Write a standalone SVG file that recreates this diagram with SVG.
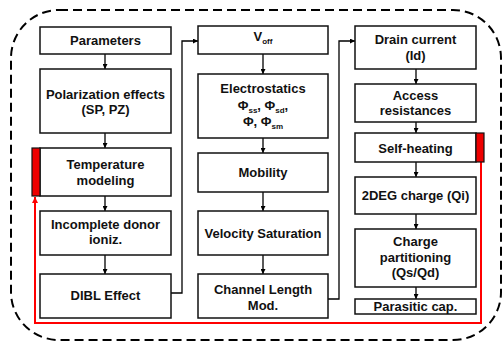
<svg xmlns="http://www.w3.org/2000/svg" width="503" height="342" viewBox="0 0 503 342">
<defs>
<style>
.b{fill:#fff;stroke:#111;stroke-width:1.5}
.t{font-family:"Liberation Sans",Arial,sans-serif;font-weight:bold;font-size:13px;fill:#111;text-anchor:middle}
.s{font-size:8px}
.c{fill:none;stroke:#000;stroke-width:1.3}
.r{fill:none;stroke:#f00;stroke-width:2}
.rb{fill:#e00;stroke:#111;stroke-width:1.2}
</style>
<marker id="a" viewBox="0 0 6 6" refX="6" refY="3" markerWidth="5" markerHeight="5" orient="auto" markerUnits="userSpaceOnUse"><path d="M0,0L6,3L0,6z" fill="#000"/></marker>
<marker id="ar" viewBox="0 0 6 6" refX="6" refY="3" markerWidth="6" markerHeight="6" orient="auto" markerUnits="userSpaceOnUse"><path d="M0,0L6,3L0,6z" fill="#f00"/></marker>
</defs>
<rect x="11" y="10" width="490" height="330" rx="48" ry="48" fill="none" stroke="#000" stroke-width="2" stroke-dasharray="9,5"/>
<g id="connectors">
<path class="c" d="M105,54V69" marker-end="url(#a)"/>
<path class="c" d="M105,133V148" marker-end="url(#a)"/>
<path class="c" d="M105,196V211" marker-end="url(#a)"/>
<path class="c" d="M105,255V274" marker-end="url(#a)"/>
<path class="c" d="M171,293H182V41H198" marker-end="url(#a)"/>
<path class="c" d="M263,54V74" marker-end="url(#a)"/>
<path class="c" d="M263,138V153" marker-end="url(#a)"/>
<path class="c" d="M263,192V211" marker-end="url(#a)"/>
<path class="c" d="M263,255V274" marker-end="url(#a)"/>
<path class="c" d="M328,299H339V41H355" marker-end="url(#a)"/>
<path class="c" d="M416,69V84" marker-end="url(#a)"/>
<path class="c" d="M416,122V133" marker-end="url(#a)"/>
<path class="c" d="M416,162V177" marker-end="url(#a)"/>
<path class="c" d="M416,214V229" marker-end="url(#a)"/>
<path class="c" d="M416,287V299" marker-end="url(#a)"/>
<path class="r" d="M481,162V323H35V197" marker-end="url(#ar)"/>
</g>
<g id="n1"><rect class="b" x="40" y="27" width="131" height="27"/><text class="t" x="105.5" y="44.5">Parameters</text></g>
<g id="n2"><rect class="b" x="40" y="69" width="131" height="64"/><text class="t" x="105.5" y="98.5">Polarization effects</text><text class="t" x="105.5" y="114">(SP, PZ)</text></g>
<g id="n3"><rect class="b" x="40" y="148" width="131" height="48"/><rect class="rb" x="32" y="148" width="8" height="48"/><text class="t" x="105.5" y="169">Temperature</text><text class="t" x="105.5" y="185">modeling</text></g>
<g id="n4"><rect class="b" x="40" y="211" width="131" height="44"/><text class="t" x="105.5" y="228.5">Incomplete donor</text><text class="t" x="105.5" y="244">ioniz.</text></g>
<g id="n5"><rect class="b" x="40" y="274" width="131" height="44"/><text class="t" x="105.5" y="300">DIBL Effect</text></g>
<g id="n6"><rect class="b" x="198" y="26" width="130" height="28"/><text class="t" x="263" y="41">V<tspan class="s" dy="3">off</tspan></text></g>
<g id="n7"><rect class="b" x="198" y="74" width="130" height="64"/><text class="t" x="263" y="93">Electrostatics</text><text class="t" x="263" y="109.5">Φ<tspan class="s" dy="3">ss</tspan><tspan dy="-3">, Φ</tspan><tspan class="s" dy="3">sd</tspan><tspan dy="-3">,</tspan></text><text class="t" x="263" y="126">Φ, Φ<tspan class="s" dy="3">sm</tspan></text></g>
<g id="n8"><rect class="b" x="198" y="153" width="130" height="39"/><text class="t" x="263" y="177">Mobility</text></g>
<g id="n9"><rect class="b" x="198" y="211" width="130" height="44"/><text class="t" x="263" y="237.5">Velocity Saturation</text></g>
<g id="n10"><rect class="b" x="198" y="274" width="130" height="44"/><text class="t" x="263" y="294">Channel Length</text><text class="t" x="263" y="309.5">Mod.</text></g>
<g id="n11"><rect class="b" x="355" y="26" width="121" height="43"/><text class="t" x="415.5" y="44">Drain current</text><text class="t" x="415.5" y="59.5">(Id)</text></g>
<g id="n12"><rect class="b" x="355" y="84" width="121" height="38"/><text class="t" x="415.5" y="100">Access</text><text class="t" x="415.5" y="115">resistances</text></g>
<g id="n13"><rect class="b" x="355" y="133" width="121" height="29"/><rect class="rb" x="476" y="133" width="8" height="29"/><text class="t" x="415.5" y="152.5">Self-heating</text></g>
<g id="n14"><rect class="b" x="355" y="177" width="121" height="37"/><text class="t" x="415.5" y="200">2DEG charge (Qi)</text></g>
<g id="n15"><rect class="b" x="355" y="229" width="121" height="58"/><text class="t" x="415.5" y="246">Charge</text><text class="t" x="415.5" y="261.5">partitioning</text><text class="t" x="415.5" y="277">(Qs/Qd)</text></g>
<g id="n16"><rect class="b" x="355" y="299" width="121" height="15"/><text class="t" x="415.5" y="311">Parasitic cap.</text></g>
</svg>
